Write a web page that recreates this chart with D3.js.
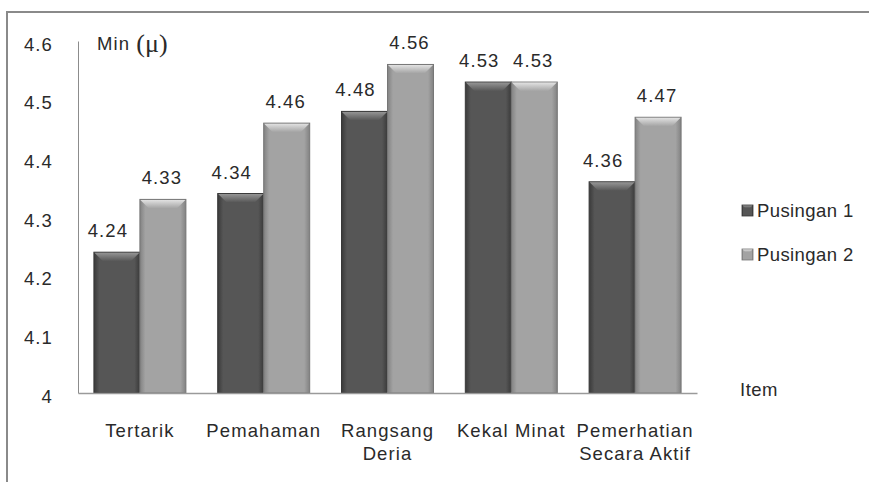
<!DOCTYPE html>
<html>
<head>
<meta charset="utf-8">
<script src="https://cdn.jsdelivr.net/npm/d3@7/dist/d3.min.js"></script>
<style>
  html, body { margin: 0; padding: 0; background: #ffffff; }
  svg { display: block; }
  text { font-family: "Liberation Sans", Arial, sans-serif; fill: #2a2a2a; }
</style>
</head>
<body>
<script>
// ---- data ----
const categories = [["Tertarik"], ["Pemahaman"], ["Rangsang", "Deria"], ["Kekal Minat"], ["Pemerhatian", "Secara Aktif"]];
const seriesNames = ["Pusingan 1", "Pusingan 2"];
const pusingan1 = [4.24, 4.34, 4.48, 4.53, 4.36];
const pusingan2 = [4.33, 4.46, 4.56, 4.53, 4.47];
const yTicks = [4, 4.1, 4.2, 4.3, 4.4, 4.5, 4.6];
const yTitle = "Min";
const yTitleSymbol = "(\u03bc)";
const xTitle = "Item";

// ---- setup ----
const W = 869, H = 482;
const svg = d3.select("body").append("svg").attr("width", W).attr("height", H);
const defs = svg.append("defs");

const plotLeft = 78, plotRight = 697, plotTop = 41, plotBottom = 393;
const FS = 18.5, LS = 1.1;

const catKeys = categories.map(c => c.join(" "));
const x0 = d3.scaleBand().domain(catKeys).range([plotLeft, plotRight]).paddingInner(0.257).paddingOuter(0.1285);
const x1 = d3.scaleBand().domain(seriesNames).range([0, x0.bandwidth()]);
const y = d3.scaleLinear().domain([4, 4.6]).range([plotBottom, plotTop]);

const palette = {
  "Pusingan 1": { base: "#565656", edge: "#3a3a3a", top: "#959595", stroke: "#383838" },
  "Pusingan 2": { base: "#a3a3a3", edge: "#828282", top: "#e2e2e2", stroke: "#767676" }
};

// gradients
seriesNames.forEach((s, i) => {
  const p = palette[s];
  const gH = defs.append("linearGradient").attr("id", "gh" + i).attr("x1", "0").attr("x2", "1").attr("y1", "0").attr("y2", "0");
  gH.append("stop").attr("offset", "0").attr("stop-color", p.edge);
  gH.append("stop").attr("offset", "0.12").attr("stop-color", p.base);
  gH.append("stop").attr("offset", "0.88").attr("stop-color", p.base);
  gH.append("stop").attr("offset", "1").attr("stop-color", p.edge);
  const gV = defs.append("linearGradient").attr("id", "gv" + i).attr("x1", "0").attr("x2", "0").attr("y1", "0").attr("y2", "1");
  gV.append("stop").attr("offset", "0").attr("stop-color", p.top);
  gV.append("stop").attr("offset", "1").attr("stop-color", p.base);
});

// frame
svg.append("rect").attr("x", 7).attr("y", 12).attr("width", 900).attr("height", 520)
  .attr("fill", "none").attr("stroke", "#8a8a8a").attr("stroke-width", 2);

// ---- bars ----
const rows = catKeys.map((k, i) => ({ key: k, values: [pusingan1[i], pusingan2[i]] }));
const groups = svg.append("g").selectAll("g").data(rows).join("g")
  .attr("transform", d => `translate(${x0(d.key)},0)`);

const bevel = 9;
groups.each(function (row) {
  const g = d3.select(this);
  row.values.forEach((v, si) => {
    const s = seriesNames[si];
    const bx = x1(s), bw = x1.bandwidth();
    const by = y(v), bh = y(4) - y(v);
    const bar = g.append("g");
    bar.append("rect").attr("x", bx).attr("y", by).attr("width", bw).attr("height", bh)
      .attr("fill", `url(#gh${si})`).attr("stroke", palette[s].stroke).attr("stroke-width", 1);
    bar.append("polygon")
      .attr("points", [[bx + 0.5, by + 0.5], [bx + bw - 0.5, by + 0.5], [bx + bw - bevel, by + bevel], [bx + bevel, by + bevel]].map(p => p.join(",")).join(" "))
      .attr("fill", `url(#gv${si})`);
    // value label
    g.append("text")
      .attr("x", bx + bw / 2 + (si === 0 ? -9 : -1))
      .attr("y", by - 15)
      .attr("text-anchor", "middle")
      .attr("font-size", FS).attr("letter-spacing", LS)
      .text(d3.format(".2f")(v));
  });
});

// ---- axes ----
const yAxis = d3.axisLeft(y).tickValues(yTicks).tickSizeInner(0).tickSizeOuter(0).tickPadding(25)
  .tickFormat(d => String(+d.toFixed(1)));
const yG = svg.append("g").attr("transform", `translate(${plotLeft},0)`).call(yAxis);
yG.select(".domain").attr("stroke", "#8c8c8c").attr("stroke-width", 1);
yG.selectAll(".tick text").attr("font-family", "Liberation Sans, Arial, sans-serif")
  .attr("font-size", FS).attr("letter-spacing", LS).attr("fill", "#2a2a2a").attr("dy", "0.5em");

const xAxis = d3.axisBottom(x0).tickSize(0).tickSizeOuter(0).tickFormat("");
const xG = svg.append("g").attr("transform", `translate(0,${plotBottom})`).call(xAxis);
xG.select(".domain").attr("stroke", "#9a9a9a").attr("stroke-width", 1.5);

// category labels
const catG = svg.append("g");
categories.forEach((lines, i) => {
  const cx = x0(catKeys[i]) + x0.bandwidth() / 2;
  const t = catG.append("text").attr("text-anchor", "middle").attr("font-size", FS).attr("letter-spacing", LS);
  lines.forEach((ln, j) => {
    t.append("tspan").attr("x", cx).attr("y", 437 + j * 23).text(ln);
  });
});

// titles
const tt = svg.append("text").attr("x", 97).attr("y", 50).attr("font-size", FS).attr("letter-spacing", LS);
tt.append("tspan").text(yTitle + " ");
tt.append("tspan").attr("font-family", "Liberation Serif, Times New Roman, serif").attr("font-size", 26).attr("letter-spacing", 0).attr("dy", 2).text(yTitleSymbol);

svg.append("text").attr("x", 740).attr("y", 396).attr("font-size", FS).attr("letter-spacing", 0.5).text(xTitle);

// legend
const leg = svg.append("g").attr("transform", "translate(742,205)");
seriesNames.forEach((s, i) => {
  const li = leg.append("g").attr("transform", `translate(0,${i * 44})`);
  li.append("rect").attr("x", 0).attr("y", 0).attr("width", 11).attr("height", 11)
    .attr("fill", `url(#gh${i})`).attr("stroke", palette[s].stroke).attr("stroke-width", 0.8);
  li.append("polygon").attr("points", "0.5,0.5 10.5,0.5 8,3 3,3").attr("fill", `url(#gv${i})`);
  li.append("text").attr("x", 15).attr("y", 6).attr("dy", "0.35em").attr("font-size", FS).attr("letter-spacing", 0.4).text(s);
});
</script>
</body>
</html>
